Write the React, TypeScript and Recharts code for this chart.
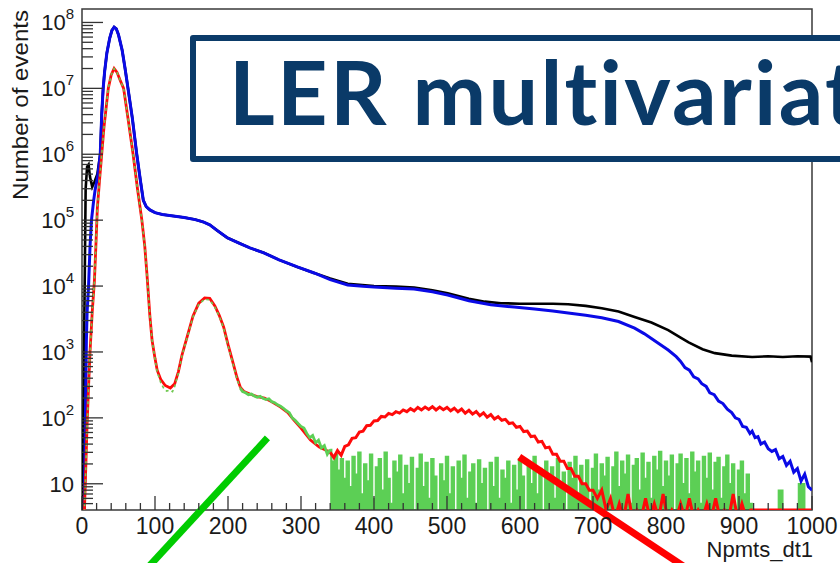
import React from 'react';
import { ComposedChart, Line, Area, XAxis, YAxis, ReferenceArea, ReferenceLine, Label } from 'recharts';

// Npmts_dt1 histogram as [x, events]
const blueSeries: [number, number][] = [
  [3, 3], [5, 200], [6, 1500], [7, 4000], [9, 1e4], [11, 4e4], [13, 1e5], [16, 2e5], [18, 2.9e5],
  [22, 5e5], [25, 1e6], [27, 4e6], [29, 1e7], [31, 1.8e7], [34, 3.4e7], [38, 5.8e7], [41, 7.6e7],
  [44, 8.5e7], [47, 8e7], [50, 6.5e7], [55, 3.8e7], [59, 2e7], [63, 1e7], [69, 3.5e6], [75, 1e6],
  [80, 4e5], [84, 2e5], [88, 1.6e5], [93, 1.43e5], [100, 1.3e5], [110, 1.22e5], [125, 1.16e5],
  [140, 1.1e5], [155, 1.02e5], [166, 9.4e4], [175, 8.5e4], [185, 7e4], [199, 5.4e4], [215, 4.5e4],
  [230, 3.8e4], [249, 3.2e4], [270, 2.5e4], [295, 1.95e4], [318, 1.58e4], [340, 1.25e4],
  [364, 1.04e4], [385, 9.9e3], [400, 9.7e3], [430, 9.3e3], [455, 9e3], [480, 8.2e3], [501, 7.3e3],
  [530, 6e3], [560, 5.2e3], [592, 4.8e3], [620, 4.5e3], [645, 4.2e3], [666, 3.9e3], [690, 3.6e3],
  [712, 3.3e3], [735, 2.9e3], [757, 2.3e3], [770, 1.9e3], [780, 1.6e3], [792, 1.3e3], [803, 1.07e3],
  [814, 850], [820, 720], [826, 580], [832, 530], [838, 420], [844, 390], [849, 330], [855, 300],
  [860, 240], [866, 225], [872, 180], [878, 165], [884, 135], [890, 120], [895, 100], [900, 95],
  [905, 74], [910, 72], [915, 58], [918, 63], [922, 50], [926, 52], [930, 40], [935, 43], [940, 34],
  [945, 31], [950, 33], [955, 24], [960, 26], [965, 19], [970, 22], [975, 15], [980, 17], [985, 11],
  [990, 14], [995, 9], [1000, 8],
];

const blackLeft: [number, number][] = [
  [1, 4], [3, 2e3], [5, 3e5], [7, 6.5e5], [9, 7e5], [11, 4.5e5], [14, 3.2e5], [17, 3.8e5], [21, 5e5],
];

const blackRight: [number, number][] = [
  [340, 1.3e4], [364, 1.08e4], [400, 1.0e4], [430, 9.8e3], [455, 9.5e3], [480, 8.6e3], [501, 7.8e3],
  [530, 6.4e3], [552, 5.8e3], [574, 5.5e3], [600, 5.4e3], [620, 5.4e3], [645, 5.4e3], [666, 5.3e3],
  [690, 5e3], [712, 4.6e3], [735, 4.1e3], [757, 3.4e3], [780, 2.8e3], [803, 2.15e3], [820, 1.65e3],
  [831, 1.4e3], [850, 1.1e3], [867, 960], [890, 880], [918, 840], [940, 860], [960, 840], [980, 860],
  [998, 850], [1000, 700],
];

const redPeaks: [number, number][] = [
  [3, 3], [5, 15], [7, 80], [9, 300], [11, 1000], [14, 4000], [17, 1.2e4], [19, 4e4], [21, 1.5e5],
  [24, 4e5], [27, 1e6], [30, 2.5e6], [33, 5e6], [36, 1e7], [40, 1.6e7], [44, 2e7], [48, 1.75e7],
  [52, 1.35e7], [57, 1e7], [63, 3.5e6], [70, 1e6], [76, 3e5], [82, 1e5], [86, 4e4], [89, 1.5e4],
  [93, 3.5e3], [96, 1.5e3], [100, 800], [103, 530], [108, 380], [114, 310], [121, 284], [127, 330],
  [132, 500], [137, 900], [144, 1.7e3], [152, 3.5e3], [160, 5.5e3], [168, 6.6e3], [175, 6.5e3],
  [182, 5e3], [188, 3.6e3], [194, 2.4e3], [200, 1.3e3], [207, 680], [212, 420], [217, 290],
  [222, 250], [230, 230], [240, 210], [250, 200], [260, 175], [272, 146], [282, 120], [290, 93],
  [300, 70], [313, 46], [325, 36], [340, 30],
];

const redHump: [number, number][] = [
  [340, 30], [345, 25], [350, 32], [355, 27], [360, 37], [365, 39], [370, 49], [375, 50], [380, 61],
  [385, 63], [390, 76], [395, 77], [400, 90], [405, 91], [410, 105], [415, 103], [420, 117],
  [425, 112], [430, 124], [435, 118], [440, 132], [445, 124], [450, 138], [455, 128], [460, 144],
  [465, 132], [470, 146], [475, 134], [480, 148], [485, 132], [490, 146], [495, 133], [500, 144],
  [505, 128], [510, 140], [515, 124], [520, 136], [525, 118], [530, 130], [535, 114], [540, 125],
  [545, 108], [550, 119], [555, 102], [560, 112], [565, 96], [570, 104], [575, 92], [580, 95],
  [585, 82], [590, 84], [595, 72], [600, 74], [605, 62], [610, 63], [615, 52], [620, 53], [625, 43],
  [630, 44], [635, 35], [640, 36], [645, 28], [650, 28], [655, 22], [660, 22], [665, 17], [670, 17],
  [675, 13], [680, 13], [685, 10], [690, 10], [695, 8], [700, 8], [706, 6], [712, 8], [718, 4],
  [724, 6], [730, 3], [736, 5], [742, 3], [748, 7], [754, 3], [760, 4], [766, 3], [772, 6], [778, 3],
  [784, 5], [790, 3], [796, 7], [802, 3], [808, 4], [814, 3], [820, 5], [826, 3], [832, 6], [838, 3],
  [844, 4], [850, 3], [856, 5], [862, 3], [868, 6], [874, 3], [880, 4], [886, 3], [892, 7], [898, 3],
  [904, 5], [910, 3], [916, 4], [922, 4], [1000, 4],
];

const greenPeaks: [number, number][] = [
  [3, 3], [5, 14], [7, 75], [9, 290], [11, 950], [14, 3900], [17, 1.2e4], [19, 4e4], [21, 1.5e5],
  [24, 4e5], [27, 1e6], [30, 2.5e6], [33, 5e6], [36, 1e7], [40, 1.6e7], [44, 2e7], [48, 1.75e7],
  [52, 1.35e7], [57, 1e7], [63, 3.5e6], [70, 1e6], [76, 3e5], [82, 1e5], [86, 4e4], [89, 1.5e4],
  [93, 3.5e3], [96, 1.5e3], [100, 780], [103, 500], [108, 340], [112, 280], [116, 255], [120, 262],
  [124, 250], [127, 300], [132, 480], [137, 880], [144, 1.65e3], [152, 3.4e3], [160, 5.3e3],
  [168, 6.3e3], [175, 6.2e3], [182, 4.8e3], [188, 3.5e3], [194, 2.3e3], [200, 1.25e3], [207, 650],
  [212, 400], [217, 280],
];

const greenShoulder: [number, number][] = [
  [217, 280], [220, 250], [224, 240], [228, 225], [232, 230], [236, 215], [240, 205], [244, 212],
  [248, 198], [252, 190], [256, 195], [260, 176], [264, 170], [268, 158], [272, 150], [276, 140],
  [280, 128], [284, 120], [288, 100], [292, 92], [296, 82], [300, 74], [304, 70], [308, 58],
  [312, 50], [316, 54], [320, 42], [324, 46], [328, 35], [332, 38], [336, 28], [340, 33],
];

const greenNoise: [number, number][] = [
  [340, 33], [344, 22],
  [348, 28], [352, 16], [356, 24], [360, 12], [364, 22], [368, 9], [372, 26], [376, 14], [380, 30],
  [384, 7], [388, 20], [392, 11], [396, 28], [400, 6], [404, 18], [408, 24], [412, 8], [416, 30],
  [420, 12], [424, 5], [428, 22], [432, 15], [436, 27], [440, 7], [444, 19], [448, 10], [452, 25],
  [456, 4], [460, 17], [464, 28], [468, 9], [472, 21], [476, 6], [480, 24], [484, 13], [488, 3],
  [492, 20], [496, 11], [500, 26], [504, 7], [508, 18], [512, 4], [516, 22], [520, 12], [524, 27],
  [528, 6], [532, 15], [536, 20], [540, 5], [544, 23], [548, 10], [552, 17], [556, 3], [560, 21],
  [564, 9], [568, 25], [572, 6], [576, 16], [580, 12], [584, 22], [588, 5], [592, 19], [596, 8],
  [600, 24], [604, 13], [608, 4], [612, 20], [616, 10], [620, 26], [624, 7], [628, 17], [632, 3],
  [636, 22], [640, 11], [644, 18], [648, 6], [652, 24], [656, 9], [660, 15], [664, 4], [668, 21],
  [672, 12], [676, 26], [680, 7], [684, 19], [688, 10], [692, 23], [696, 5], [700, 17], [704, 28],
  [708, 8], [712, 20], [716, 13], [720, 25], [724, 6], [728, 18], [732, 30], [736, 9], [740, 22],
  [744, 14], [748, 27], [752, 5], [756, 19], [760, 24], [764, 8], [768, 29], [772, 12], [776, 21],
  [780, 6], [784, 26], [788, 16], [792, 31], [796, 9], [800, 22], [804, 13], [808, 27], [812, 4],
  [816, 20], [820, 28], [824, 10], [828, 24], [832, 7], [836, 30], [840, 15], [844, 22], [848, 5],
  [852, 26], [856, 12], [860, 29], [864, 8], [868, 21], [872, 25], [876, 6], [880, 18], [884, 27],
  [888, 10], [892, 20], [896, 4], [900, 16], [904, 22], [908, 7], [912, 14], [916, 5], [920, 3],
  [930, 2], [950, 2], [958, 8], [962, 2], [975, 2], [988, 10], [992, 2], [1000, 2],
];

const xTicks = Array.from({ length: 51 }, (_, i) => i * 20);
const yDecades = [1, 10, 100, 1e3, 1e4, 1e5, 1e6, 1e7, 1e8];
const yTicks = yDecades
  .flatMap((d) => [1, 2, 3, 4, 5, 6, 7, 8, 9].map((m) => m * d))
  .filter((v) => v >= 5 && v <= 1.6e8);

const toPoints = (s: [number, number][]) => s.map(([x, y]) => ({ x, y }));

const blackSeries: [number, number][] = [
  ...blackLeft,
  ...blueSeries.filter(([x]) => x >= 25 && x < 335),
  ...blackRight,
];

const axisFont = '"Liberation Sans", Arial, sans-serif';

const XTick = ({ x, y, payload }: any) => {
  const v = payload.value;
  const major = v % 100 === 0;
  return (
    <g>
      <line x1={x} x2={x} y1={y} y2={y - (major ? 14 : 7)} stroke="#333" strokeWidth={1.3} />
      {major && (
        <text x={x} y={y + 24} textAnchor="middle" fontSize={23} fontFamily={axisFont} fill="#1a1a1a">
          {v}
        </text>
      )}
    </g>
  );
};

const YTick = ({ x, y, payload }: any) => {
  const v = payload.value;
  const exp = Math.round(Math.log10(v));
  const major = Math.abs(v - Math.pow(10, exp)) < 1e-6 * v;
  return (
    <g>
      <line x1={x} x2={x + (major ? 21 : 11)} y1={y} y2={y} stroke="#333" strokeWidth={1.3} />
      {major && (
        <text x={x - 8} y={y + 8} textAnchor="end" fontSize={22} fontFamily={axisFont} fill="#1a1a1a">
          10
          {exp > 1 && (
            <tspan dy={-11} fontSize={15}>
              {exp}
            </tspan>
          )}
        </text>
      )}
    </g>
  );
};

const lineProps = { dataKey: 'y', dot: false, isAnimationActive: false } as const;

export default function App() {
  return (
    <div
      style={{
        position: 'absolute',
        left: 0,
        top: 0,
        width: 840,
        height: 563,
        overflow: 'hidden',
        background: '#fff',
      }}
    >
      <ComposedChart width={840} height={563} margin={{ top: 9, right: 28, bottom: 0, left: 0 }}>
        <XAxis
          type="number"
          dataKey="x"
          domain={[0, 1000]}
          ticks={xTicks}
          interval={0}
          tick={<XTick />}
          tickLine={false}
          axisLine={false}
          tickSize={0}
          tickMargin={0}
          height={53}
          allowDataOverflow
        >
          <Label
            content={() => (
              <text x={813} y={557} textAnchor="end" fontSize={22} fontFamily={axisFont} fill="#1a1a1a">
                Npmts_dt1
              </text>
            )}
          />
        </XAxis>
        <YAxis
          type="number"
          dataKey="y"
          scale="log"
          domain={[4, 1.6e8]}
          ticks={yTicks}
          interval={0}
          tick={<YTick />}
          tickLine={false}
          axisLine={false}
          tickSize={0}
          tickMargin={0}
          width={82}
          allowDataOverflow
        >
          <Label
            content={() => (
              <text
                x={28}
                y={105}
                transform="rotate(-90 28 105)"
                textAnchor="middle"
                fontSize={22}
                textLength={190}
                lengthAdjust="spacingAndGlyphs"
                fontFamily={axisFont}
                fill="#1a1a1a"
              >
                Number of events
              </text>
            )}
          />
        </YAxis>
        <Line {...lineProps} data={toPoints(blackSeries)} type="linear" stroke="#000" strokeWidth={2.6} />
        <Line {...lineProps} data={toPoints(blueSeries)} type="linear" stroke="#0a0ae6" strokeWidth={3} />
        <Area
          data={toPoints(greenNoise)}
          dataKey="y"
          type="step"
          baseValue={4}
          stroke="#5ccf55"
          strokeWidth={1.5}
          fill="#5ccf55"
          fillOpacity={1}
          dot={false}
          activeDot={false}
          isAnimationActive={false}
        />
        <Line {...lineProps} data={toPoints(redPeaks)} type="linear" stroke="#ff0a0a" strokeWidth={2.8} />
        <Line {...lineProps} data={toPoints(redHump)} type="linear" stroke="#ff0a0a" strokeWidth={3} />
        <Line {...lineProps} data={toPoints(greenShoulder)} type="linear" stroke="#5ccf55" strokeWidth={2.8} />
        <Line {...lineProps} data={toPoints(greenPeaks)} type="linear" stroke="#6fc850" strokeWidth={1.6} strokeDasharray="3 3" />
        <ReferenceArea x1={0} x2={1000} y1={4} y2={1.6e8} fill="none" stroke="#3a3a3a" strokeWidth={1.5} ifOverflow="visible" />
        <ReferenceLine segment={[{ x: 254, y: 49.5 }, { x: 87, y: 0.49 }]} stroke="#00cc00" strokeWidth={7} ifOverflow="visible" />
        <ReferenceLine segment={[{ x: 599, y: 25.5 }, { x: 832, y: 0.49 }]} stroke="#ff0000" strokeWidth={7} ifOverflow="visible" />
      </ComposedChart>
      <div
        style={{
          position: 'absolute',
          left: 190,
          top: 35,
          width: 720,
          height: 127,
          boxSizing: 'border-box',
          border: '6px solid #0b3b69',
          borderRadius: 3,
          background: '#fff',
        }}
      >
        <div
          style={{
            position: 'absolute',
            left: 33,
            top: 6,
            fontFamily: 'Lato, sans-serif',
            fontWeight: 700,
            fontSize: 88,
            letterSpacing: 2.3,
            lineHeight: 1,
            color: '#0a3a68',
            whiteSpace: 'nowrap',
          }}
        >
          LER multivariate
        </div>
      </div>
    </div>
  );
}
